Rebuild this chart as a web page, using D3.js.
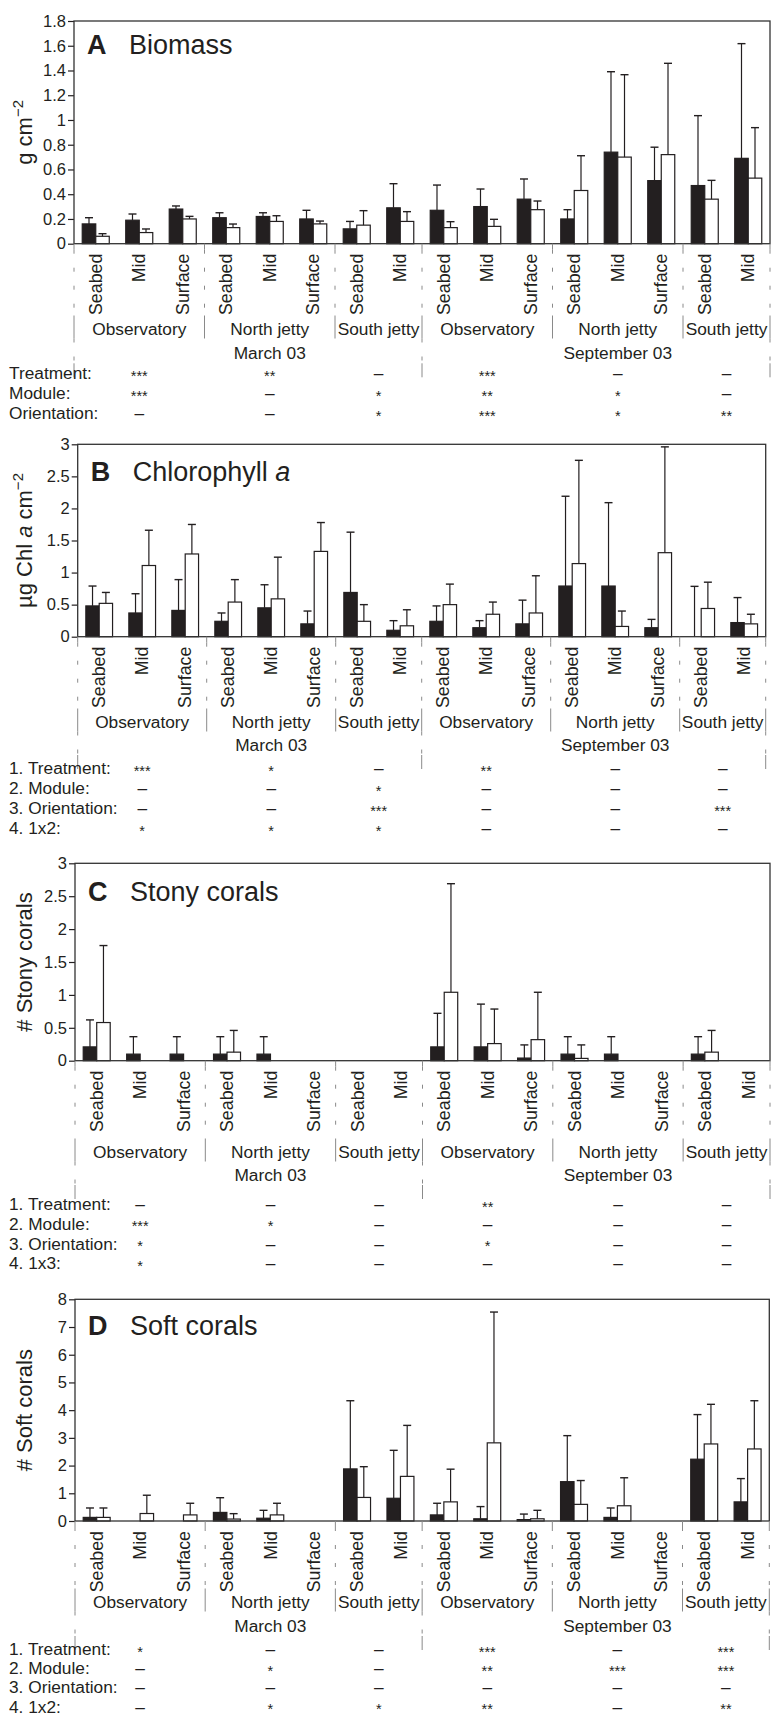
<!DOCTYPE html>
<html><head><meta charset="utf-8">
<script src="https://cdn.jsdelivr.net/npm/d3@7"></script>
<style>
body{margin:0;background:#fff;}
svg{display:block;font-family:"Liberation Sans",Arial,Helvetica,sans-serif;}
</style></head><body>
<svg id="chart" width="771" height="1718"></svg>
<script>
// ---------- shared categories ----------
const categories = ["Seabed","Mid","Surface","Seabed","Mid","Surface","Seabed","Mid",
                    "Seabed","Mid","Surface","Seabed","Mid","Surface","Seabed","Mid"];
const sites = ["Observatory","North jetty","South jetty","Observatory","North jetty","South jetty"];
const siteSizes = [3,3,2,3,3,2];
const dates = ["March 03","September 03"];
const datesSites = [3,3];

// ---------- A: Biomass ----------
const biomassDark    = [0.16,0.19,0.28,0.21,0.22,0.20,0.12,0.29,0.27,0.30,0.36,0.20,0.74,0.51,0.47,0.69];
const biomassDarkHi  = [0.21,0.24,0.305,0.25,0.25,0.27,0.18,0.485,0.474,0.442,0.523,0.275,1.39,0.78,1.035,1.617];
const biomassLight   = [0.06,0.09,0.20,0.13,0.18,0.16,0.15,0.18,0.13,0.14,0.275,0.43,0.70,0.72,0.36,0.53];
const biomassLightHi = [0.081,0.119,0.221,0.159,0.226,0.183,0.267,0.259,0.178,0.197,0.345,0.711,1.366,1.458,0.512,0.938];
const biomassTicks = [0,0.2,0.4,0.6,0.8,1,1.2,1.4,1.6,1.8];
const biomassTickLabels = ["0","0.2","0.4","0.6","0.8","1","1.2","1.4","1.6","1.8"];
const biomassStatLabels = ["Treatment:","Module:","Orientation:"];
const biomassStats = [["***","**","–","***","–","–"],
                      ["***","–","*","**","*","–"],
                      ["–","–","*","***","*","**"]];

// ---------- B: Chlorophyll a ----------
const chlDark    = [0.48,0.37,0.41,0.24,0.45,0.20,0.69,0.10,0.24,0.14,0.20,0.79,0.79,0.14,0.0,0.22];
const chlDarkHi  = [0.79,0.67,0.89,0.37,0.81,0.40,1.63,0.25,0.48,0.25,0.57,2.19,2.09,0.27,0.785,0.61];
const chlLight   = [0.52,1.11,1.29,0.54,0.59,1.33,0.24,0.17,0.50,0.35,0.37,1.14,0.16,1.31,0.44,0.20];
const chlLightHi = [0.69,1.66,1.75,0.89,1.24,1.78,0.50,0.42,0.82,0.54,0.95,2.75,0.40,2.96,0.85,0.35];
const chlTicks = [0,0.5,1,1.5,2,2.5,3];
const chlTickLabels = ["0","0.5","1","1.5","2","2.5","3"];
const chlStatLabels = ["1. Treatment:","2. Module:","3. Orientation:","4. 1x2:"];
const chlStats = [["***","*","–","**","–","–"],
                  ["–","–","*","–","–","–"],
                  ["–","–","***","–","–","***"],
                  ["*","*","*","–","–","–"]];

// ---------- C: Stony corals ----------
const stonyDark    = [0.21,0.10,0.10,0.10,0.10,0,0,0,0.21,0.21,0.04,0.10,0.10,0,0.10,0];
const stonyDarkHi  = [0.62,0.365,0.365,0.365,0.365,0,0,0,0.72,0.86,0.24,0.365,0.365,0,0.365,0];
const stonyLight   = [0.58,0,0,0.13,0,0,0,0,1.04,0.26,0.32,0.035,0,0,0.13,0];
const stonyLightHi = [1.75,0,0,0.46,0,0,0,0,2.69,0.785,1.04,0.24,0,0,0.46,0];
const stonyTicks = [0,0.5,1,1.5,2,2.5,3];
const stonyTickLabels = ["0","0.5","1","1.5","2","2.5","3"];
const stonyStatLabels = ["1. Treatment:","2. Module:","3. Orientation:","4. 1x3:"];
const stonyStats = [["–","–","–","**","–","–"],
                    ["***","*","–","–","–","–"],
                    ["*","–","–","*","–","–"],
                    ["*","–","–","–","–","–"]];

// ---------- D: Soft corals ----------
const softDark    = [0.13,0,0,0.31,0.10,0,1.88,0.82,0.22,0.08,0.05,1.42,0.13,0,2.23,0.69];
const softDarkHi  = [0.47,0,0,0.84,0.385,0,4.34,2.55,0.64,0.52,0.25,3.08,0.47,0,3.84,1.53];
const softLight   = [0.13,0.27,0.22,0.07,0.22,0,0.85,1.61,0.69,2.82,0.08,0.60,0.55,0,2.78,2.60];
const softLightHi = [0.47,0.93,0.64,0.265,0.64,0,1.96,3.45,1.87,7.54,0.385,1.46,1.56,0,4.21,4.34];
const softTicks = [0,1,2,3,4,5,6,7,8];
const softTickLabels = ["0","1","2","3","4","5","6","7","8"];
const softStatLabels = ["1. Treatment:","2. Module:","3. Orientation:","4. 1x2:"];
const softStats = [["*","–","–","***","–","***"],
                   ["–","*","–","**","***","***"],
                   ["–","–","–","–","–","–"],
                   ["–","*","*","**","–","**"]];

// ---------- drawing ----------
const svg = d3.select("#chart");
const ink = "#231f20";
const lineGray = "#8a8a8a";
const labelFont = 17.3;

const panels = [
  {letter:"A", title:[{t:"Biomass"}], ytitle:[{t:"g cm"},{t:"−2",sup:true}],
   dark:biomassDark, darkHi:biomassDarkHi, light:biomassLight, lightHi:biomassLightHi,
   ticks:biomassTicks, tickLabels:biomassTickLabels, statLabels:biomassStatLabels, stats:biomassStats,
   x0:74, x1:770, yTop:21, y0:243.7, max:1.8, titleY:54, groupY:328.5, dateY:353.3, statY0:373.3, statDy:20},
  {letter:"B", title:[{t:"Chlorophyll "},{t:"a",it:true}], ytitle:[{t:"µg Chl "},{t:"a",it:true},{t:" cm"},{t:"−2",sup:true}],
   dark:chlDark, darkHi:chlDarkHi, light:chlLight, lightHi:chlLightHi,
   ticks:chlTicks, tickLabels:chlTickLabels, statLabels:chlStatLabels, stats:chlStats,
   x0:77.7, x1:765.7, yTop:444.3, y0:636.7, max:3, titleY:481, groupY:721.5, dateY:745, statY0:768.3, statDy:20},
  {letter:"C", title:[{t:"Stony corals"}], ytitle:[{t:"# Stony corals"}],
   dark:stonyDark, darkHi:stonyDarkHi, light:stonyLight, lightHi:stonyLightHi,
   ticks:stonyTicks, tickLabels:stonyTickLabels, statLabels:stonyStatLabels, stats:stonyStats,
   x0:75, x1:770, yTop:863.3, y0:1060.7, max:3, titleY:901, groupY:1151.5, dateY:1175, statY0:1204, statDy:19.8},
  {letter:"D", title:[{t:"Soft corals"}], ytitle:[{t:"# Soft corals"}],
   dark:softDark, darkHi:softDarkHi, light:softLight, lightHi:softLightHi,
   ticks:softTicks, tickLabels:softTickLabels, statLabels:softStatLabels, stats:softStats,
   x0:75, x1:769.3, yTop:1299.3, y0:1521, max:8, titleY:1335, groupY:1601.5, dateY:1626, statY0:1649, statDy:19.2}
];

function cumul(arr){ const out=[0]; arr.forEach(v=>out.push(out[out.length-1]+v)); return out; }

function drawPanel(p){
  const g = svg.append("g");
  const n = categories.length;
  const x = d3.scaleBand().domain(d3.range(n)).range([p.x0,p.x1]).padding(0);
  const bw = x.bandwidth();
  const sub = d3.scaleBand().domain(["dark","light"]).range([0,bw]).paddingInner(0).paddingOuter(0.61);
  const y = d3.scaleLinear().domain([0,p.max]).range([p.y0,p.yTop]);
  const xAt = i => i>=n ? p.x1 : x(i);

  // axis
  const ax = g.append("g").attr("transform",`translate(${p.x0},0)`)
    .call(d3.axisLeft(y).tickValues(p.ticks).tickFormat((d,i)=>p.tickLabels[i]).tickSize(6).tickPadding(2));
  ax.select(".domain").remove();
  ax.selectAll(".tick line").attr("stroke",ink).attr("stroke-width",1.2);
  ax.selectAll(".tick text").attr("fill",ink).attr("font-size",16.5).attr("font-family",null);

  // bars
  const bars = [];
  categories.forEach((c,i)=>{
    bars.push({i,key:"dark",v:p.dark[i],hi:p.darkHi[i]});
    bars.push({i,key:"light",v:p.light[i],hi:p.lightHi[i]});
  });
  g.selectAll("rect.bar").data(bars.filter(d=>d.v>0)).join("rect")
    .attr("class","bar")
    .attr("x",d=>x(d.i)+sub(d.key))
    .attr("width",sub.bandwidth())
    .attr("y",d=>y(d.v))
    .attr("height",d=>y(0)-y(d.v))
    .attr("fill",d=>d.key==="dark"?ink:"#fff")
    .attr("stroke",ink).attr("stroke-width",1.2);

  const eb = bars.filter(d=>d.hi>d.v);
  const cx = d=>x(d.i)+sub(d.key)+sub.bandwidth()/2;
  g.selectAll("line.err").data(eb).join("line").attr("class","err")
    .attr("x1",cx).attr("x2",cx).attr("y1",d=>y(d.v)).attr("y2",d=>y(d.hi))
    .attr("stroke",ink).attr("stroke-width",1.2);
  g.selectAll("line.cap").data(eb).join("line").attr("class","cap")
    .attr("x1",d=>cx(d)-4).attr("x2",d=>cx(d)+4).attr("y1",d=>y(d.hi)).attr("y2",d=>y(d.hi))
    .attr("stroke",ink).attr("stroke-width",1.4);

  // frame
  g.append("rect").attr("x",p.x0).attr("y",p.yTop).attr("width",p.x1-p.x0).attr("height",p.y0-p.yTop)
    .attr("fill","none").attr("stroke","#333").attr("stroke-width",1.3);

  // title
  g.append("text").attr("x",p.x0+13).attr("y",p.titleY).attr("font-size",27).attr("font-weight","bold")
    .attr("fill",ink).text(p.letter);
  const tt = g.append("text").attr("x",p.x0+55).attr("y",p.titleY).attr("font-size",27).attr("fill",ink);
  p.title.forEach(s=>tt.append("tspan").attr("font-style",s.it?"italic":null).text(s.t));

  // y title
  const ym = (p.y0+p.yTop)/2;
  const yt = g.append("text").attr("transform",`translate(24,${ym}) rotate(-90)`)
    .attr("text-anchor","middle").attr("dy","0.35em").attr("font-size",22).attr("fill",ink);
  p.ytitle.forEach(s=>{
    const ts = yt.append("tspan").text(s.t);
    if(s.it) ts.attr("font-style","italic");
    if(s.sup) ts.attr("font-size",15).attr("dy","-0.6em");
  });

  // category labels
  g.selectAll("text.cat").data(categories).join("text").attr("class","cat")
    .attr("transform",(d,i)=>`translate(${x(i)+bw/2},${p.y0+10}) rotate(-90)`)
    .attr("text-anchor","end").attr("dy","0.35em").attr("font-size",17.8).attr("fill",ink).text(d=>d);

  // group boundaries
  const gb = cumul(siteSizes);
  const sepLines = g.append("g").attr("stroke",lineGray).attr("stroke-width",1);
  gb.forEach(b=>{
    const bx = xAt(b);
    sepLines.append("line").attr("x1",bx).attr("x2",bx).attr("y1",p.y0).attr("y2",p.y0+6);
    sepLines.append("line").attr("x1",bx).attr("x2",bx).attr("y1",p.y0+6).attr("y2",p.groupY-13)
      .attr("stroke-dasharray","4,14");
    sepLines.append("line").attr("x1",bx).attr("x2",bx).attr("y1",p.groupY-13).attr("y2",p.groupY+10);
  });
  // group labels
  sites.forEach((s,k)=>{
    const cxg = (xAt(gb[k])+xAt(gb[k+1]))/2;
    g.append("text").attr("x",cxg).attr("y",p.groupY).attr("dy","0.35em").attr("text-anchor","middle")
      .attr("font-size",labelFont).attr("fill",ink).text(s);
  });
  // date boundaries & labels
  const db = cumul(datesSites).map(k=>gb[k]);
  db.forEach(b=>{
    const bx = xAt(b);
    sepLines.append("line").attr("x1",bx).attr("x2",bx).attr("y1",p.groupY+10).attr("y2",p.dateY+10)
      .attr("stroke-dasharray","4,14");
    sepLines.append("line").attr("x1",bx).attr("x2",bx).attr("y1",p.dateY+10).attr("y2",p.dateY+24);
  });
  dates.forEach((dname,k)=>{
    const midSite = cumul(datesSites)[k]+1;
    const cxd = (xAt(gb[midSite])+xAt(gb[midSite+1]))/2;
    g.append("text").attr("x",cxd).attr("y",p.dateY).attr("dy","0.35em").attr("text-anchor","middle")
      .attr("font-size",labelFont).attr("fill",ink).text(dname);
  });

  // stats
  p.statLabels.forEach((lab,r)=>{
    const ry = p.statY0 + r*p.statDy;
    g.append("text").attr("x",9).attr("y",ry).attr("dy","0.35em").attr("font-size",labelFont).attr("fill",ink).text(lab);
    p.stats[r].forEach((v,k)=>{
      const cxg = (xAt(gb[k])+xAt(gb[k+1]))/2;
      const star = v.indexOf("*")>=0;
      g.append("text").attr("x",cxg).attr("y",ry).attr("text-anchor","middle")
        .attr("dy",star?"0.52em":"0.35em").attr("font-size",star?14.5:labelFont).attr("fill",ink).text(v);
    });
  });
}

panels.forEach(drawPanel);
</script>
</body></html>
